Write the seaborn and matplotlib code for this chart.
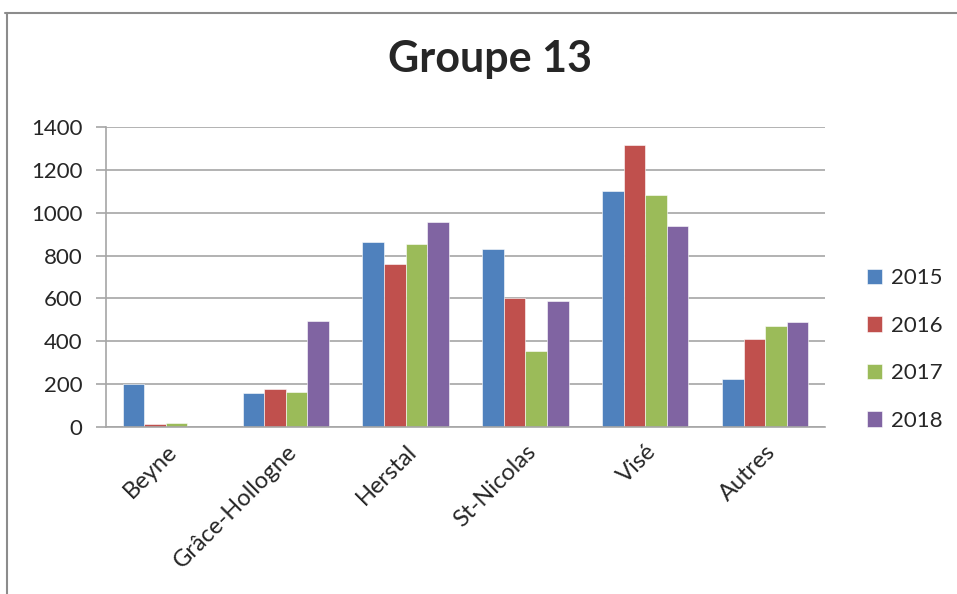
import pandas as pd
import seaborn as sns
import matplotlib.pyplot as plt
from matplotlib.lines import Line2D

# Data
communes = ['Beyne', 'Grâce-Hollogne', 'Herstal', 'St-Nicolas', 'Visé', 'Autres']
years = ['2015', '2016', '2017', '2018']
v2015 = [200, 160, 865, 830, 1100, 225]
v2016 = [12, 178, 760, 600, 1315, 410]
v2017 = [20, 165, 855, 355, 1085, 470]
v2018 = [0, 495, 955, 590, 940, 490]
colors = ['#4F81BD', '#C0504D', '#9BBB59', '#8064A2']

df = pd.DataFrame({'commune': communes * 4,
                   'year': [y for y in years for _ in communes],
                   'value': v2015 + v2016 + v2017 + v2018})

sns.set_style('white')
plt.rcParams['font.family'] = ['Lato', 'DejaVu Sans']

fig = plt.figure(figsize=(9.57, 5.94), dpi=100)
ax = fig.add_axes([106 / 957, 1 - 427 / 594, (825 - 106) / 957, 300 / 594])

sns.barplot(data=df, x='commune', y='value', hue='year', palette=colors,
            width=0.72, saturation=1, edgecolor='white', linewidth=0.4, ax=ax)

ax.set_ylim(0, 1400)
ax.set_yticks(range(0, 1401, 200))
ax.set_xlim(-0.5, len(communes) - 0.5)
ax.set_xlabel('')
ax.set_ylabel('')
ax.yaxis.grid(True, color='#a6a6a6', linewidth=1.2)
ax.set_axisbelow(True)
for s in ['top', 'right']:
    ax.spines[s].set_visible(False)
for s in ['left', 'bottom']:
    ax.spines[s].set_color('#a6a6a6')
    ax.spines[s].set_linewidth(1.2)

# category ticks between groups, like Excel
ax.set_xticks([i - 0.5 for i in range(len(communes) + 1)], minor=True)
ax.tick_params(axis='x', which='minor', length=7, color='#a6a6a6', width=1.2)
ax.tick_params(axis='x', which='major', length=0, labelsize=17, pad=10)
ax.tick_params(axis='y', length=7, color='#a6a6a6', width=1.2, labelsize=16,
               left=True, pad=10)
ax.set_xticks(range(len(communes)))
ax.set_xticklabels(communes, rotation=45, ha='right', rotation_mode='anchor')

fig.suptitle('Groupe 13', x=0.512, y=0.935, fontsize=31, fontweight='bold')

leg = ax.legend(title=None, loc='center left', bbox_to_anchor=(1.03, 0.258),
                frameon=False, fontsize=16, labelspacing=1.24,
                handlelength=0.7, handleheight=0.7, handletextpad=0.4)

# outer chart frame (cropped on the right and bottom)
fig.add_artist(Line2D([5 / 957, 1], [1 - 13 / 594] * 2, color='#8c8c8c', lw=1.5))
fig.add_artist(Line2D([7 / 957] * 2, [0, 1 - 13 / 594], color='#8c8c8c', lw=1.5))

fig.savefig('out.png', dpi=100)
